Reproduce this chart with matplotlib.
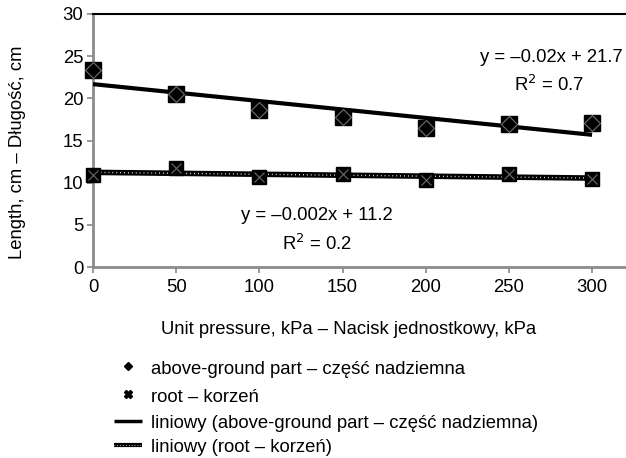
import matplotlib
matplotlib.use("Agg")
import matplotlib.pyplot as plt
import numpy as np

plt.rcParams['font.family'] = ['Liberation Sans', 'DejaVu Sans']

pressure = [0, 50, 100, 150, 200, 250, 300]
above_ground = [23.35, 20.5, 18.6, 17.8, 16.5, 16.9, 17.1]
root = [10.96, 11.68, 10.69, 11.08, 10.29, 11.0, 10.49]
x_ticks = [0, 50, 100, 150, 200, 250, 300]
y_ticks = [0, 5, 10, 15, 20, 25, 30]

eq_above = "y = \u20130.02x + 21.7"
r2_above = "R$^2$ = 0.7"
eq_root = "y = \u20130.002x + 11.2"
r2_root = "R$^2$ = 0.2"

FS = 13.3
W, H = 626, 458
fig = plt.figure(figsize=(W / 100, H / 100), dpi=100)
fig.patch.set_facecolor('white')

def px(x, y):
    return x / W, 1 - y / H

ax = fig.add_axes([93 / W, 1 - 267 / H, (W - 93) / W, (267 - 14) / H])
ax.set_xlim(0, 320.4)
ax.set_ylim(0, 30)
ax.set_xticks(x_ticks)
ax.set_yticks(y_ticks)
ax.tick_params(axis='both', labelsize=FS, colors='#888888', labelcolor='black',
               length=4, width=1.2)
ax.tick_params(axis='x', pad=5)
ax.tick_params(axis='y', pad=3)
for s in ['left', 'bottom']:
    ax.spines[s].set_color('#8c8c8c')
    ax.spines[s].set_linewidth(2)
ax.spines['top'].set_color('black')
ax.spines['top'].set_linewidth(1.5)
ax.spines['right'].set_visible(False)
ax.set_facecolor('white')

xa = np.array(pressure, dtype=float)
# trend lines from least squares fit
pa = np.polyfit(xa, above_ground, 1)
pr = np.polyfit(xa, root, 1)
xx = np.array([xa.min(), xa.max()])
ax.plot(xx, np.polyval(pa, xx), color='black', lw=3, zorder=3, solid_capstyle='butt')
ax.plot(xx, np.polyval(pr, xx), color='black', lw=4, zorder=3, solid_capstyle='butt')
ax.plot(xx, np.polyval(pr, xx), color='white', lw=1.0, zorder=3.1,
        linestyle=(0, (0.6, 2.2)))

# markers
ax.plot(pressure, above_ground, 's', color='black', ms=12, zorder=4, clip_on=False)
ax.plot(pressure, above_ground, 'D', mfc='none', mec='#707070', mew=0.8, ms=8.2,
        zorder=5, clip_on=False)
ax.plot(pressure, root, 's', color='black', ms=9.5, zorder=4, clip_on=False)
ax.plot(pressure, root, 'x', color='#6a6a6a', mew=0.8, ms=7.5, zorder=5, clip_on=False)

# equations
fig.text(*px(551, 58), eq_above, fontsize=FS, ha='center', va='center')
fig.text(*px(549, 85), r2_above, fontsize=FS, ha='center', va='center')
fig.text(*px(317, 216), eq_root, fontsize=FS, ha='center', va='center')
fig.text(*px(317, 244), r2_root, fontsize=FS, ha='center', va='center')

# axis titles
fig.text(*px(18, 152), "Length, cm \u2013 D\u0142ugo\u015b\u0107, cm", fontsize=FS,
         rotation=90, ha='center', va='center')
fig.text(*px(349, 330), "Unit pressure, kPa \u2013 Nacisk jednostkowy, kPa",
         fontsize=FS, ha='center', va='center')

# legend
lg = fig.add_axes([0, 0, 1, 1])
lg.set_xlim(0, W)
lg.set_ylim(H, 0)
lg.axis('off')
lg.patch.set_alpha(0)
labels = ["above-ground part \u2013 cz\u0119\u015b\u0107 nadziemna",
          "root \u2013 korze\u0144",
          "liniowy (above-ground part \u2013 cz\u0119\u015b\u0107 nadziemna)",
          "liniowy (root \u2013 korze\u0144)"]
ys = [369, 397, 423, 448]
lg.plot([128], [ys[0] - 3], 'D', color='black', ms=4.5)
lg.plot([128], [ys[1] - 3], 'X', color='black', ms=5.5)
lg.plot([114, 142], [ys[2] - 2, ys[2] - 2], color='black', lw=2.5, solid_capstyle='butt')
lg.plot([114, 142], [ys[3] - 3, ys[3] - 3], color='black', lw=3, solid_capstyle='butt')
lg.plot([114, 142], [ys[3] - 3, ys[3] - 3], color='white', lw=0.8, linestyle=(0, (0.6, 2.0)))
for y, t in zip(ys, labels):
    lg.text(151, y, t, fontsize=FS, ha='left', va='center')

fig.savefig('out.png', dpi=100, facecolor='white')
